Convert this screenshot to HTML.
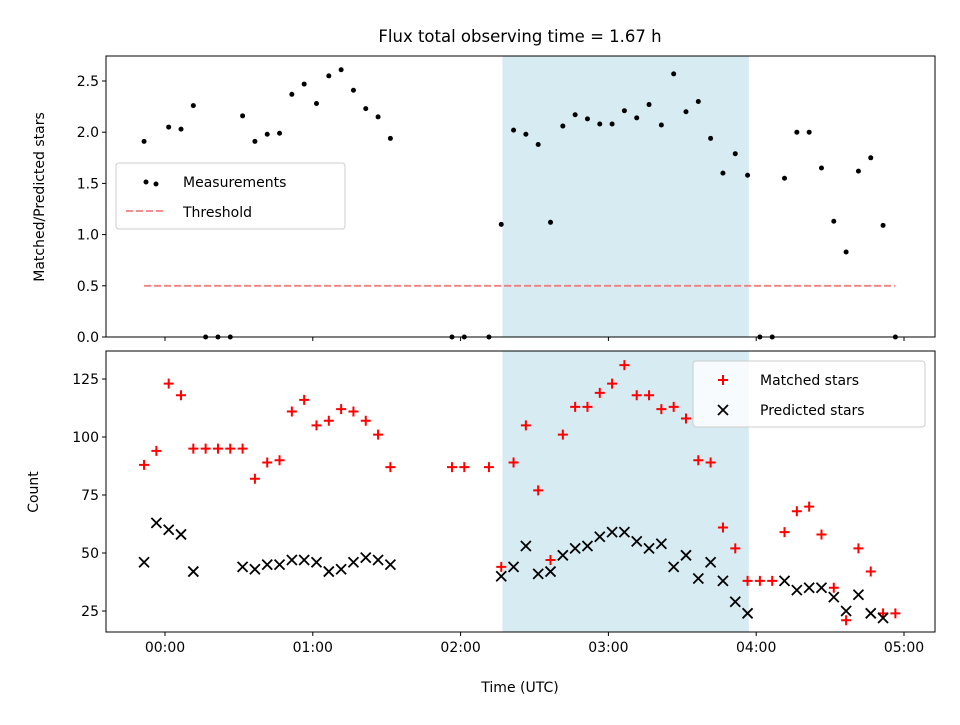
<!DOCTYPE html>
<html><head><meta charset="utf-8"><style>
body{margin:0;background:#fff;font-family:"Liberation Sans","DejaVu Sans",sans-serif}
svg text{font-family:"DejaVu Sans","Liberation Sans",sans-serif;fill:#000}
</style></head><body>
<svg id="chart" width="960" height="720" xmlns="http://www.w3.org/2000/svg"></svg>
<script>
const times=[-8.5,-3.5,1.5,6.5,11.5,16.5,21.5,26.5,31.5,36.5,41.5,46.5,51.5,56.5,61.5,66.5,71.5,76.5,81.5,86.5,91.5,116.5,121.5,131.5,136.5,141.5,146.5,151.5,156.5,161.5,166.5,171.5,176.5,181.5,186.5,191.5,196.5,201.5,206.5,211.5,216.5,221.5,226.5,231.5,236.5,241.5,246.5,251.5,256.5,261.5,266.5,271.5,276.5,281.5,286.5,291.5,296.5];
const ratio=[1.91,2.05,2.03,2.26,0,0,0,2.16,1.91,1.98,1.99,2.37,2.47,2.28,2.55,2.61,2.41,2.23,2.15,1.94,0,0,0,1.10,2.02,1.98,1.88,1.12,2.06,2.17,2.13,2.08,2.08,2.21,2.14,2.27,2.07,2.57,2.20,2.30,1.94,1.60,1.79,1.58,0,0,1.55,2.00,2.00,1.65,1.13,0.83,1.62,1.75,1.09,0];
const ratioTimes=[-8.5,1.5,6.5,11.5,16.5,21.5,26.5,31.5,36.5,41.5,46.5,51.5,56.5,61.5,66.5,71.5,76.5,81.5,86.5,91.5,116.5,121.5,131.5,136.5,141.5,146.5,151.5,156.5,161.5,166.5,171.5,176.5,181.5,186.5,191.5,196.5,201.5,206.5,211.5,216.5,221.5,226.5,231.5,236.5,241.5,246.5,251.5,256.5,261.5,266.5,271.5,276.5,281.5,286.5,291.5,296.5];
const matched=[88,94,123,118,95,95,95,95,95,82,89,90,111,116,105,107,112,111,107,101,87,87,87,87,44,89,105,77,47,101,113,113,119,123,131,118,118,112,113,108,90,89,61,52,38,38,38,59,68,70,58,35,21,52,42,24,24];
const predicted=[46,63,60,58,42,null,null,null,44,43,45,45,47,47,46,42,43,46,48,47,45,null,null,null,40,44,53,41,42,49,52,53,57,59,59,55,52,54,44,49,39,46,38,29,24,null,null,38,34,35,35,31,25,32,24,22,null];
const xTicks=[0,60,120,180,240,300];
const xTickLabels=["00:00","01:00","02:00","03:00","04:00","05:00"];
const yTopTicks=[0,0.5,1,1.5,2,2.5];
const yBotTicks=[25,50,75,100,125];
const threshold=0.5, shadeStart=137, shadeEnd=237;

const NS="http://www.w3.org/2000/svg", svg=document.getElementById('chart');
function el(t,a,p){const e=document.createElementNS(NS,t);for(const k in a)e.setAttribute(k,a[k]);(p||svg).appendChild(e);return e;}
const L=106,R=935;
const X=m=>165+(m)*147.8/60;
const Yt=v=>337-v*102.4;
const Yb=v=>611-(v-25)*2.32;
function panel(top,bot,name){
  const g=el('g',{});return g;}
const gt=panel(56,337,'top-panel'), gb=panel(351,632,'bottom-panel');
[[gt,56,337],[gb,351,632]].forEach(([g,t,b])=>{
  const r=el('rect',{x:X(shadeStart),y:t,width:X(shadeEnd)-X(shadeStart),height:b-t,fill:'#add8e6','fill-opacity':0.5},g);
  
});
// threshold
const th=el('line',{x1:X(-8.5),x2:X(296.5),y1:Yt(threshold),y2:Yt(threshold),stroke:'#f08080','stroke-width':1.8,'stroke-dasharray':'7,3'},gt);

ratio.forEach((v,i)=>{const c=el('circle',{cx:X(ratioTimes[i]),cy:Yt(v),r:2.5,fill:'#000'},gt);
});
matched.forEach((v,i)=>{const x=X(times[i]),y=Yb(v);const p=el('path',{d:`M${x-5},${y}H${x+5}M${x},${y-5}V${y+5}`,stroke:'#f00','stroke-width':2},gb);
});
predicted.forEach((v,i)=>{if(v==null)return;const x=X(times[i]),y=Yb(v);const p=el('path',{d:`M${x-5},${y-5}L${x+5},${y+5}M${x-5},${y+5}L${x+5},${y-5}`,stroke:'#000','stroke-width':1.8},gb);
});
// frames & ticks
[[gt,56,337],[gb,351,632]].forEach(([g,t,b],k)=>{
  el('rect',{x:L,y:t,width:R-L,height:b-t,fill:'none',stroke:'#000','stroke-width':1},g);
  xTicks.forEach((m,i)=>{el('line',{x1:X(m),x2:X(m),y1:b,y2:b+4,stroke:'#000'},g);
    if(k===1){const tx=el('text',{x:X(m),y:b+20,'text-anchor':'middle','font-size':14},g);tx.textContent=xTickLabels[i];
      }});
});
yTopTicks.forEach(v=>{el('line',{x1:L-4,x2:L,y1:Yt(v),y2:Yt(v),stroke:'#000'},gt);
  const t=el('text',{x:L-7,y:Yt(v)+5,'text-anchor':'end','font-size':14},gt);t.textContent=v.toFixed(1);
  });
yBotTicks.forEach(v=>{el('line',{x1:L-4,x2:L,y1:Yb(v),y2:Yb(v),stroke:'#000'},gb);
  const t=el('text',{x:L-7,y:Yb(v)+5,'text-anchor':'end','font-size':14},gb);t.textContent=v;
  });
function txt(s,a,name){const t=el('text',a);t.textContent=s;return t;}
txt('Flux total observing time = 1.67 h',{x:520,y:42,'text-anchor':'middle','font-size':16.5},'chart-title');
txt('Time (UTC)',{x:520,y:692,'text-anchor':'middle','font-size':14},'x-axis-title');
txt('Matched/Predicted stars',{x:0,y:0,transform:'translate(44,197) rotate(-90)','text-anchor':'middle','font-size':14},'y-axis-title-top');
txt('Count',{x:0,y:0,transform:'translate(38,492) rotate(-90)','text-anchor':'middle','font-size':14},'y-axis-title-bottom');
// legends
const lg1=el('g',{});
el('rect',{x:116,y:163,width:229,height:66,rx:3,fill:'#fff','fill-opacity':0.8,stroke:'#ccc'},lg1);
el('circle',{cx:146,cy:182,r:2.5,fill:'#000'},lg1);el('circle',{cx:156,cy:184,r:2.5,fill:'#000'},lg1);
el('line',{x1:126,x2:166,y1:211,y2:211,stroke:'#f08080','stroke-width':1.8,'stroke-dasharray':'7,3'},lg1);
let t=el('text',{x:183,y:187,'font-size':14},lg1);t.textContent='Measurements';
t=el('text',{x:183,y:217,'font-size':14},lg1);t.textContent='Threshold';
const lg2=el('g',{});
el('rect',{x:693,y:361,width:232,height:66,rx:3,fill:'#fff','fill-opacity':0.8,stroke:'#ccc'},lg2);
el('path',{d:'M718,380H728M723,375V385',stroke:'#f00','stroke-width':2},lg2);
el('path',{d:'M718,405L728,415M718,415L728,405',stroke:'#000','stroke-width':1.8},lg2);
t=el('text',{x:760,y:385,'font-size':14},lg2);t.textContent='Matched stars';
t=el('text',{x:760,y:415,'font-size':14},lg2);t.textContent='Predicted stars';
</script></body></html>
